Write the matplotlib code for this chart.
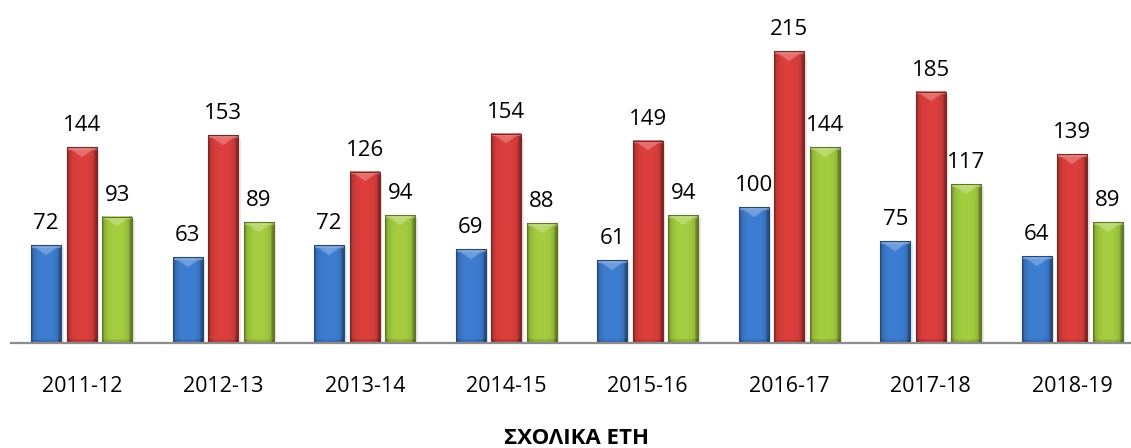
import numpy as np
import matplotlib
matplotlib.use("Agg")
import matplotlib.pyplot as plt
from matplotlib.colors import to_rgb

plt.rcParams['font.family'] = ['Open Sans', 'DejaVu Sans']

years = ["2011-12", "2012-13", "2013-14", "2014-15",
         "2015-16", "2016-17", "2017-18", "2018-19"]
series_a = [72, 63, 72, 69, 61, 100, 75, 64]
series_b = [144, 153, 126, 154, 149, 215, 185, 139]
series_c = [93, 89, 94, 88, 94, 144, 117, 89]
colors = ["#3b78c8", "#d23c3a", "#9cc43c"]
x_title = "ΣΧΟΛΙΚΑ ΕΤΗ"

W, H, DPI = 1131, 448, 100
fig = plt.figure(figsize=(W / DPI, H / DPI), dpi=DPI)
ax_left_px, ax_right_px = 11, 1143
ax_base_px = 343
ymax = 240
px_per_unit = 1.358
ax_h_px = ymax * px_per_unit
ax = fig.add_axes([ax_left_px / W, (H - ax_base_px) / H,
                   (ax_right_px - ax_left_px) / W, ax_h_px / H])
ax.set_xlim(-0.5, len(years) - 0.5)
ax.set_ylim(0, ymax)

x = np.arange(len(years))
pitch = 0.251
width = 0.212
x_px_per_unit = (ax_right_px - ax_left_px) / len(years)


def shade_bar(patch, color):
    """Paint a bevelled gradient over a bar patch."""
    x0, y0 = patch.get_x(), patch.get_y()
    w, h = patch.get_width(), patch.get_height()
    nx = 60
    ny = max(int(h * px_per_unit * 2), 4)
    u = (np.arange(nx) + 0.5) / nx
    v_px = (np.arange(ny) + 0.5) / 2.0  # distance from top in px
    U, V = np.meshgrid(u, v_px)
    base = np.array(to_rgb(color))
    # horizontal rounding: darker toward the sides
    side = np.abs(2 * U - 1)
    f = 1.05 - 0.25 * side ** 3
    f = np.where(U > 0.92, f - 0.18, f)
    f = np.where(U < 0.06, f - 0.10, f)
    # bottom darkening
    height_px = h * px_per_unit
    f = np.where(V > height_px - 4, f - 0.12, f)
    img = base[None, None, :] * f[..., None]
    # top bevel: light band and a downward chevron
    bevel_px = 10.0
    tri = V < bevel_px * (1 - side)
    band = V < 3.0
    light = np.zeros_like(U)
    light = np.where(tri, 0.25, light)
    light = np.where(band, 0.35, light)
    img = img * (1 - light[..., None]) + light[..., None]
    img = np.clip(img, 0, 1)
    ax.imshow(img, extent=(x0, x0 + w, y0, y0 + h), origin="upper",
              aspect="auto", interpolation="bilinear", zorder=3)
    # edge line
    edge = tuple(base * 0.6)
    ax.plot([x0, x0, x0 + w, x0 + w], [y0, y0 + h, y0 + h, y0],
            color=edge, lw=0.8, zorder=4)


for i, (vals, col) in enumerate(zip([series_a, series_b, series_c], colors)):
    pos = x + (i - 1) * pitch
    bars = ax.bar(pos, vals, width=width, color=col, zorder=2)
    for b, v in zip(bars, vals):
        shade_bar(b, col)
        # soft shadow to the right of the bar
        ax.add_patch(plt.Rectangle((b.get_x() + b.get_width(), 0),
                                   2.5 / x_px_per_unit, v * 0.98,
                                   color="#d9d9d9", alpha=0.6, lw=0, zorder=1))
        ax.annotate(str(v), (b.get_x() + b.get_width() / 2, v),
                    xytext=(0, 8), textcoords="offset points",
                    ha="center", va="bottom", fontsize=16, color="black")

ax.set_xticks(x)
ax.set_xticklabels(years, fontsize=15.5)
ax.tick_params(axis="x", length=0, pad=24)
ax.set_yticks([])
for s in ["top", "left", "right"]:
    ax.spines[s].set_visible(False)
ax.spines["bottom"].set_color("#8c8c8c")
ax.spines["bottom"].set_linewidth(1.6)
ax.spines["bottom"].set_zorder(5)

ax.set_xlabel(x_title, fontsize=16, fontweight="bold", labelpad=22)

fig.savefig("out.png", dpi=DPI)
